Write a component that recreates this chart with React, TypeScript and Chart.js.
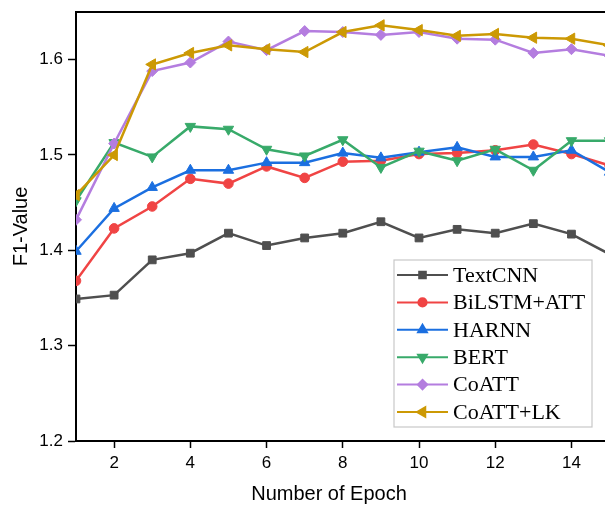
import React, { useEffect, useRef } from 'react';
import { Chart, registerables } from 'chart.js';
import { drawPoint } from 'chart.js/helpers';

Chart.register(...registerables);

const epochs = [1, 2, 3, 4, 5, 6, 7, 8, 9, 10, 11, 12, 13, 14, 15];
const textCNN = [1.349, 1.353, 1.390, 1.397, 1.418, 1.405, 1.413, 1.418, 1.430, 1.413, 1.422, 1.418, 1.428, 1.417, 1.396];
const bilstmAtt = [1.368, 1.423, 1.446, 1.475, 1.470, 1.488, 1.476, 1.493, 1.494, 1.501, 1.502, 1.505, 1.511, 1.501, 1.489];
const harnn = [1.399, 1.444, 1.466, 1.484, 1.484, 1.492, 1.492, 1.502, 1.497, 1.503, 1.508, 1.498, 1.498, 1.505, 1.482];
const bert = [1.452, 1.513, 1.498, 1.530, 1.527, 1.506, 1.499, 1.516, 1.487, 1.504, 1.494, 1.506, 1.484, 1.515, 1.515];
const coatt = [1.432, 1.512, 1.588, 1.597, 1.619, 1.610, 1.630, 1.629, 1.626, 1.629, 1.622, 1.621, 1.607, 1.611, 1.604];
const coattLk = [1.458, 1.500, 1.595, 1.607, 1.615, 1.611, 1.608, 1.629, 1.636, 1.631, 1.625, 1.627, 1.623, 1.622, 1.615];

const seriesNames = ['TextCNN', 'BiLSTM+ATT', 'HARNN', 'BERT', 'CoATT', 'CoATT+LK'];
const seriesValues = [textCNN, bilstmAtt, harnn, bert, coatt, coattLk];
const seriesColors = ['#4f4f4f', '#f04444', '#1b6fe0', '#38aa6a', '#b47ddf', '#cc9904'];
const seriesStyles = ['rect', 'circle', 'triangle', 'triangle', 'rectRot', 'triangle'];
const seriesRotations = [0, 0, 0, 180, 0, -90];
const seriesRadii = [5.5, 4.8, 6, 6, 5.5, 6.5];

const xTitle = 'Number of Epoch';
const yTitle = 'F1-Value';

const frameLegendPlugin = {
  id: 'frameLegend',
  afterDraw(chart: any) {
    const { ctx, chartArea } = chart;
    ctx.save();
    // top frame line
    ctx.strokeStyle = '#000';
    ctx.lineWidth = 2;
    ctx.beginPath();
    ctx.moveTo(chartArea.left - 1, chartArea.top);
    ctx.lineTo(chartArea.right, chartArea.top);
    ctx.stroke();

    // x axis title
    ctx.fillStyle = '#000';
    ctx.font = '20px "Liberation Sans", Arial, sans-serif';
    ctx.textAlign = 'center';
    ctx.textBaseline = 'middle';
    ctx.fillText(xTitle, chartArea.left + 253, chartArea.bottom + 53);

    // legend box
    const boxW = 198;
    const boxH = 167;
    const bx = chartArea.right - 13 - boxW;
    const by = chartArea.bottom - 14 - boxH;
    ctx.fillStyle = '#ffffff';
    ctx.fillRect(bx, by, boxW, boxH);
    ctx.strokeStyle = '#c8c8c8';
    ctx.lineWidth = 1.2;
    ctx.strokeRect(bx, by, boxW, boxH);

    const rowH = 27.4;
    ctx.font = '22px "Liberation Serif", "Times New Roman", serif';
    ctx.textBaseline = 'middle';
    ctx.textAlign = 'left';
    chart.data.datasets.forEach((ds: any, i: number) => {
      const y = by + 15 + i * rowH;
      ctx.strokeStyle = ds.borderColor;
      ctx.lineWidth = 2;
      ctx.beginPath();
      ctx.moveTo(bx + 3, y);
      ctx.lineTo(bx + 54, y);
      ctx.stroke();
      ctx.fillStyle = ds.borderColor;
      drawPoint(ctx, {
        pointStyle: ds.pointStyle,
        rotation: ds.pointRotation,
        radius: ds.pointRadius * 0.85,
        borderWidth: 1,
      } as any, bx + 28.5, y);
      ctx.fillStyle = '#000';
      ctx.fillText(ds.label, bx + 59, y + 1);
    });
    ctx.restore();
  },
};

export default function App() {
  const canvasRef = useRef<HTMLCanvasElement | null>(null);

  useEffect(() => {
    const canvas = canvasRef.current;
    if (!canvas) return;
    const datasets = seriesNames.map((name, i) => ({
      label: name,
      data: epochs.map((e, j) => ({ x: e, y: seriesValues[i][j] })),
      borderColor: seriesColors[i],
      backgroundColor: seriesColors[i],
      pointBackgroundColor: seriesColors[i],
      pointBorderColor: seriesColors[i],
      pointStyle: seriesStyles[i],
      pointRotation: seriesRotations[i],
      pointRadius: seriesRadii[i],
      pointBorderWidth: 1,
      borderWidth: 2.5,
      tension: 0,
      clip: 0,
      order: seriesNames.length - i,
    }));

    const chart = new Chart(canvas, {
      type: 'line',
      data: { datasets },
      options: {
        responsive: false,
        animation: false,
        layout: { autoPadding: false, padding: { top: 12, right: 0, left: 0, bottom: 0 } },
        plugins: {
          legend: { display: false },
          tooltip: { enabled: false },
        },
        scales: {
          x: {
            type: 'linear',
            min: 1,
            max: 14.88,
            afterFit: (scale: any) => {
              scale.height = 67;
              scale.paddingRight = 0;
              scale.paddingLeft = 0;
            },
            ticks: {
              stepSize: 2,
              includeBounds: false,
              color: '#000',
              padding: 5,
              maxRotation: 0,
              font: { family: '"Liberation Sans", Arial, sans-serif', size: 17 },
            },
            grid: {
              display: true,
              drawOnChartArea: false,
              drawTicks: true,
              tickLength: 7,
              tickColor: '#000',
              tickWidth: 1.5,
            },
            border: { display: true, color: '#000', width: 2 },
            title: { display: false },
          },
          y: {
            type: 'linear',
            min: 1.2,
            max: 1.65,
            afterFit: (scale: any) => {
              scale.width = 76;
              scale.paddingTop = 0;
              scale.paddingBottom = 0;
            },
            ticks: {
              stepSize: 0.1,
              includeBounds: false,
              color: '#000',
              padding: 5,
              callback: (v: any) => Number(v).toFixed(1),
              font: { family: '"Liberation Sans", Arial, sans-serif', size: 17 },
            },
            grid: {
              display: true,
              drawOnChartArea: false,
              drawTicks: true,
              tickLength: 8,
              tickColor: '#000',
              tickWidth: 1.5,
            },
            border: { display: true, color: '#000', width: 2 },
            title: {
              display: true,
              text: yTitle,
              color: '#000',
              padding: { top: 9, bottom: 0 },
              font: { family: '"Liberation Sans", Arial, sans-serif', size: 20, weight: 'normal' },
            },
          },
        },
      } as any,
      plugins: [frameLegendPlugin],
    });
    return () => chart.destroy();
  }, []);

  return (
    <div style={{ position: 'absolute', left: 0, top: 0, width: 605, height: 508, background: '#fff' }}>
      <canvas ref={canvasRef} width={605} height={508} />
    </div>
  );
}
